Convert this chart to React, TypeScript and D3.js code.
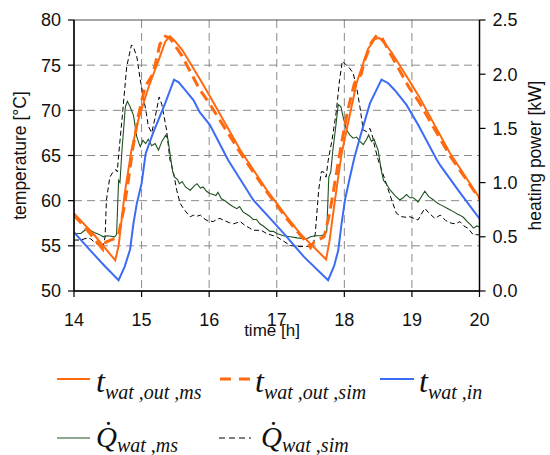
import React from "react";
import * as d3 from "d3";

// ---- data ----
const xTicks = [14, 15, 16, 17, 18, 19, 20];
const yTicksLeft = [50, 55, 60, 65, 70, 75, 80];
const yTicksRight = [0, 0.5, 1.0, 1.5, 2.0, 2.5];

const tOutMsTime = [14.0, 14.3, 14.61, 14.66, 14.75, 14.85, 14.95, 15.1, 15.25, 15.35, 15.42, 15.5, 15.6, 15.86, 16.0, 16.46, 16.85, 17.15, 17.34, 17.73, 17.78, 17.86, 17.96, 18.18, 18.35, 18.45, 18.52, 18.6, 18.7, 18.96, 19.1, 19.56, 20.0];
const tOutMsVal = [58.6, 56.2, 53.4, 55.0, 60.8, 65.6, 68.9, 72.5, 75.5, 77.6, 78.2, 77.6, 76.7, 73.5, 71.7, 65.6, 61.2, 58.2, 56.4, 53.5, 55.5, 60.0, 65.2, 73.0, 76.8, 77.9, 78.0, 77.4, 76.4, 73.3, 71.6, 65.3, 60.3];

const tOutSimTime = [14.0, 14.2, 14.43, 14.47, 14.6, 14.66, 14.73, 14.8, 14.87, 14.95, 15.05, 15.15, 15.2, 15.27, 15.35, 15.42, 15.6, 15.86, 16.0, 16.46, 16.85, 17.15, 17.5, 17.55, 17.7, 17.78, 17.86, 17.95, 18.05, 18.15, 18.25, 18.3, 18.4, 18.48, 18.55, 18.7, 18.96, 19.1, 19.56, 20.0];
const tOutSimVal = [58.4, 56.7, 54.6, 55.4, 55.8, 56.3, 58.8, 62.0, 65.8, 69.3, 72.6, 73.8, 75.0, 77.3, 78.2, 78.0, 76.0, 72.3, 70.8, 65.3, 61.0, 58.0, 54.8, 55.4, 56.0, 58.5, 62.0, 66.0, 70.0, 73.0, 74.0, 75.5, 77.5, 78.3, 78.1, 76.0, 72.5, 71.0, 65.0, 60.2];

const tInTime = [14.0, 14.24, 14.45, 14.66, 14.75, 14.83, 14.88, 14.93, 15.0, 15.06, 15.17, 15.35, 15.48, 15.55, 15.64, 15.77, 15.86, 16.01, 16.19, 16.28, 16.65, 17.1, 17.4, 17.76, 17.85, 17.91, 17.96, 18.01, 18.08, 18.15, 18.25, 18.38, 18.55, 18.65, 18.75, 18.92, 19.1, 19.37, 19.42, 19.7, 20.0];
const tInVal = [56.5, 54.5, 52.8, 51.2, 52.7, 54.6, 57.5, 59.7, 61.9, 65.2, 67.5, 70.8, 73.4, 73.1, 72.3, 71.1, 69.8, 68.4, 65.8, 64.5, 60.1, 56.4, 53.8, 51.2, 52.8, 54.5, 57.5, 60.1, 62.5, 64.8, 67.5, 70.8, 73.4, 73.0, 72.2, 70.6, 68.3, 64.5, 63.9, 61.0, 58.0];

const qMsTime = [14.0, 14.1, 14.18, 14.24, 14.3, 14.38, 14.43, 14.5, 14.6, 14.63, 14.66, 14.68, 14.71, 14.76, 14.79, 14.83, 14.88, 14.93, 14.98, 15.02, 15.06, 15.1, 15.15, 15.2, 15.25, 15.3, 15.36, 15.39, 15.42, 15.46, 15.49, 15.53, 15.56, 15.6, 15.65, 15.72, 15.78, 15.82, 15.87, 15.91, 15.96, 16.01, 16.06, 16.1, 16.13, 16.18, 16.24, 16.3, 16.35, 16.41, 16.45, 16.5, 16.55, 16.6, 16.65, 16.7, 16.75, 16.8, 16.9, 16.95, 17.0, 17.1, 17.2, 17.3, 17.44, 17.5, 17.57, 17.65, 17.71, 17.74, 17.77, 17.8, 17.83, 17.87, 17.91, 17.95, 17.98, 18.03, 18.08, 18.13, 18.18, 18.23, 18.28, 18.33, 18.36, 18.4, 18.44, 18.48, 18.5, 18.55, 18.58, 18.63, 18.68, 18.75, 18.82, 18.87, 18.92, 18.97, 19.02, 19.06, 19.09, 19.14, 19.19, 19.25, 19.32, 19.38, 19.44, 19.5, 19.56, 19.62, 19.67, 19.71, 19.76, 19.82, 19.87, 19.91, 19.96, 20.0];
const qMsVal = [0.53, 0.53, 0.57, 0.56, 0.54, 0.52, 0.5, 0.51, 0.5, 0.52, 1.02, 1.0, 1.3, 1.7, 1.75, 1.7, 1.62, 1.42, 1.33, 1.39, 1.36, 1.4, 1.34, 1.36, 1.3, 1.38, 1.44, 1.4, 1.27, 1.1, 1.05, 1.03, 0.99, 1.01, 0.96, 0.93, 0.97, 0.99, 0.95, 0.96, 0.92, 0.9, 0.89, 0.88, 0.91, 0.85, 0.83, 0.8, 0.78, 0.76, 0.78, 0.73, 0.71, 0.69, 0.66, 0.66, 0.62, 0.6, 0.55, 0.55, 0.53, 0.51, 0.5, 0.49, 0.48, 0.5, 0.51, 0.51, 0.52, 0.55, 1.05, 1.1, 1.3, 1.5, 1.72, 1.7, 1.61, 1.49, 1.44, 1.41, 1.42, 1.38, 1.35, 1.4, 1.44, 1.38, 1.4, 1.33, 1.3, 1.1, 1.02, 0.98, 0.93, 0.88, 0.84, 0.86, 0.89, 0.86, 0.86, 0.84, 0.82, 0.87, 0.92, 0.87, 0.84, 0.81, 0.79, 0.77, 0.75, 0.73, 0.71, 0.7, 0.68, 0.64, 0.61, 0.58, 0.6, 0.59];

const qSimTime = [14.0, 14.1, 14.2, 14.25, 14.3, 14.38, 14.43, 14.46, 14.48, 14.53, 14.58, 14.62, 14.64, 14.66, 14.72, 14.78, 14.85, 14.88, 14.93, 14.98, 15.07, 15.1, 15.15, 15.2, 15.26, 15.3, 15.37, 15.42, 15.47, 15.52, 15.57, 15.62, 15.67, 15.72, 15.77, 15.82, 15.87, 15.92, 15.97, 16.06, 16.11, 16.16, 16.22, 16.3, 16.36, 16.41, 16.46, 16.52, 16.6, 16.65, 16.77, 16.85, 17.0, 17.1, 17.2, 17.3, 17.44, 17.54, 17.57, 17.62, 17.66, 17.69, 17.73, 17.76, 17.82, 17.88, 17.93, 17.97, 18.02, 18.06, 18.13, 18.18, 18.23, 18.28, 18.33, 18.38, 18.42, 18.45, 18.5, 18.55, 18.62, 18.7, 18.77, 18.85, 18.92, 18.97, 19.03, 19.09, 19.15, 19.19, 19.25, 19.34, 19.42, 19.5, 19.59, 19.65, 19.71, 19.77, 19.83, 19.91, 19.96, 20.0];
const qSimVal = [0.47, 0.47, 0.49, 0.48, 0.45, 0.42, 0.4, 0.5, 0.84, 1.05, 1.1, 1.12, 1.1, 1.25, 1.65, 2.07, 2.27, 2.25, 2.16, 1.95, 1.64, 1.52, 1.46, 1.6, 1.79, 1.72, 1.485, 1.21, 1.1, 0.93, 0.81, 0.76, 0.72, 0.685, 0.7, 0.69, 0.7, 0.67, 0.65, 0.64, 0.66, 0.67, 0.65, 0.63, 0.62, 0.63, 0.64, 0.61, 0.58, 0.56, 0.56, 0.53, 0.5, 0.46, 0.42, 0.41, 0.41, 0.42, 0.53, 0.93, 1.1, 1.1, 1.05, 1.2, 1.4, 1.65, 1.95, 2.12, 2.09, 2.07, 2.01, 1.885, 1.7, 1.485, 1.47, 1.5, 1.42, 1.33, 1.21, 1.12, 0.99, 0.84, 0.717, 0.685, 0.68, 0.685, 0.67, 0.655, 0.72, 0.763, 0.72, 0.67, 0.7, 0.65, 0.624, 0.62, 0.64, 0.6, 0.578, 0.517, 0.52, 0.517];

const C_ORANGE = "#ff6a10";
const C_BLUE = "#3b6cf6";
const C_GREEN = "#1f5220";
const C_GRID = "#8a8a8a";

const W = 550;
const H = 455;
const L = 74;
const R = 479.5;
const T = 20;
const B = 291;

export default function App() {
  const x = d3.scaleLinear().domain([14, 20]).range([L, R]);
  const yL = d3.scaleLinear().domain([50, 80]).range([B, T]);
  const yR = d3.scaleLinear().domain([0, 2.5]).range([B, T]);

  const mk = (ts: number[], vs: number[], ys: d3.ScaleLinear<number, number>) =>
    d3
      .line<number>()
      .x((_, i) => x(ts[i]))
      .y((v) => ys(v))
      .curve(d3.curveLinear)(vs) || "";

  const font = "Arial, 'Liberation Sans', sans-serif";
  const serif = "'Liberation Serif', 'Times New Roman', serif";

  return (
    <div style={{ position: "fixed", left: 0, top: 0 }}>
      <svg width={W} height={H} style={{ display: "block", background: "#fff" }}>
        <defs>
          <clipPath id="plot">
            <rect x={L} y={T} width={R - L} height={B - T} />
          </clipPath>
        </defs>
        {/* grid */}
        {xTicks.slice(1, -1).map((t) => (
          <line key={"gx" + t} x1={x(t)} x2={x(t)} y1={T} y2={B} stroke={C_GRID} strokeWidth={1} strokeDasharray="8,5" />
        ))}
        {yTicksLeft.slice(1, -1).map((t) => (
          <line key={"gy" + t} x1={L} x2={R} y1={yL(t)} y2={yL(t)} stroke={C_GRID} strokeWidth={1} strokeDasharray="8,5" />
        ))}
        {/* series */}
        <g clipPath="url(#plot)" fill="none">
          <path d={mk(qSimTime, qSimVal, yR)} stroke="#000" strokeWidth={1} strokeDasharray="5,3" />
          <path d={mk(qMsTime, qMsVal, yR)} stroke={C_GREEN} strokeWidth={1.1} />
          <path d={mk(tInTime, tInVal, yL)} stroke={C_BLUE} strokeWidth={2} />
          <path d={mk(tOutMsTime, tOutMsVal, yL)} stroke={C_ORANGE} strokeWidth={2} />
          <path d={mk(tOutSimTime, tOutSimVal, yL)} stroke={C_ORANGE} strokeWidth={3} strokeDasharray="11,6" />
        </g>
        {/* frame */}
        <rect x={L} y={T} width={R - L} height={B - T} fill="none" stroke="#222" strokeWidth={0.8} />
        <line x1={L} x2={L} y1={T} y2={B} stroke="#000" strokeWidth={1.5} />
        <line x1={R} x2={R} y1={T} y2={B} stroke="#000" strokeWidth={1.5} />
        <line x1={L} x2={R} y1={B} y2={B} stroke="#000" strokeWidth={1.5} />
        {/* left axis */}
        {yTicksLeft.map((t) => (
          <g key={"yl" + t}>
            <line x1={L - 6} x2={L} y1={yL(t)} y2={yL(t)} stroke="#000" strokeWidth={1.2} />
            <text x={L - 13} y={yL(t)} dy="0.36em" textAnchor="end" fontFamily={font} fontSize={18} fill="#111">
              {t}
            </text>
          </g>
        ))}
        {/* right axis */}
        {yTicksRight.map((t) => (
          <g key={"yr" + t}>
            <line x1={R} x2={R + 6} y1={yR(t)} y2={yR(t)} stroke="#000" strokeWidth={1.2} />
            <text x={R + 13} y={yR(t)} dy="0.36em" textAnchor="start" fontFamily={font} fontSize={18} fill="#111">
              {t.toFixed(1)}
            </text>
          </g>
        ))}
        {/* x axis */}
        {xTicks.map((t) => (
          <g key={"xt" + t}>
            <line x1={x(t)} x2={x(t)} y1={B} y2={B + 6} stroke="#000" strokeWidth={1.2} />
            <text x={x(t)} y={326} textAnchor="middle" fontFamily={font} fontSize={18} fill="#111">
              {t}
            </text>
          </g>
        ))}
        <text x={272} y={336} textAnchor="middle" fontFamily={font} fontSize={17} fill="#111">
          time [h]
        </text>
        <text transform={`translate(26,${(T + B) / 2}) rotate(-90)`} textAnchor="middle" fontFamily={font} fontSize={17.5} fill="#111">
          temperature [°C]
        </text>
        <text transform={`translate(541,${(T + B) / 2}) rotate(-90)`} textAnchor="middle" fontFamily={font} fontSize={17.5} fill="#111">
          heating power [kW]
        </text>
        {/* legend */}
        <g fontFamily={serif} fontStyle="italic" fill="#111">
          <line x1={57} x2={90} y1={379} y2={379} stroke={C_ORANGE} strokeWidth={2} />
          <text x={96} y={392} fontSize={32}>
            t<tspan fontSize={20} dy={7}>wat ,out ,ms</tspan>
          </text>
          <line x1={220} x2={252} y1={379} y2={379} stroke={C_ORANGE} strokeWidth={3} strokeDasharray="11,8" />
          <text x={255} y={392} fontSize={32}>
            t<tspan fontSize={20} dy={7}>wat ,out ,sim</tspan>
          </text>
          <line x1={380} x2={414} y1={379} y2={379} stroke={C_BLUE} strokeWidth={2} />
          <text x={419} y={392} fontSize={32}>
            t<tspan fontSize={20} dy={7}>wat ,in</tspan>
          </text>
          <line x1={57} x2={90} y1={438} y2={438} stroke={C_GREEN} strokeWidth={1.1} />
          <text x={96} y={447} fontSize={29}>
            {"Q\u0307"}<tspan fontSize={20} dy={5}>wat ,ms</tspan>
          </text>
          <line x1={219} x2={251} y1={438} y2={438} stroke="#000" strokeWidth={1} strokeDasharray="6,4" />
          <text x={261} y={447} fontSize={29}>
            {"Q\u0307"}<tspan fontSize={20} dy={5}>wat ,sim</tspan>
          </text>
        </g>
      </svg>
    </div>
  );
}
